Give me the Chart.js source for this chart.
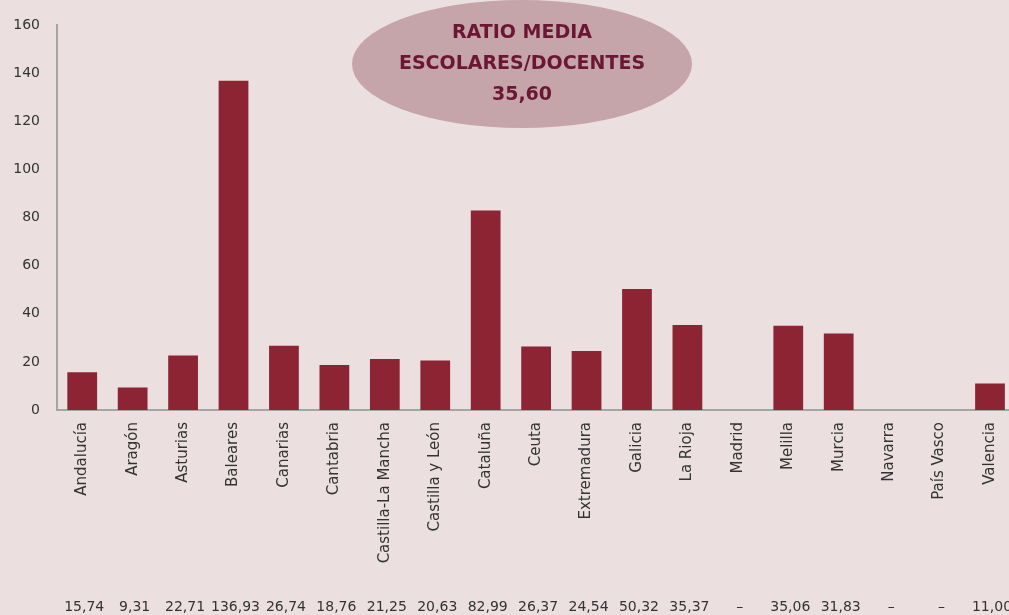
<!DOCTYPE html>
<html>
<head>
<meta charset="utf-8">
<script src="https://cdn.jsdelivr.net/npm/chart.js@4"></script>
<style>
  html, body { margin: 0; padding: 0; background: #ebdfe0; overflow: hidden; }
  #wrap { width: 1020px; height: 615px; position: relative; }
</style>
</head>
<body>
<div id="wrap"><canvas id="ratioChart"></canvas></div>
<script>
const regiones = ['Andalucía', 'Aragón', 'Asturias', 'Baleares', 'Canarias', 'Cantabria',
  'Castilla-La Mancha', 'Castilla y León', 'Cataluña', 'Ceuta', 'Extremadura', 'Galicia',
  'La Rioja', 'Madrid', 'Melilla', 'Murcia', 'Navarra', 'País Vasco', 'Valencia']

const ratios = [15.74, 9.31, 22.71, 136.93, 26.74, 18.76, 21.25, 20.63, 82.99, 26.37,
  24.54, 50.32, 35.37, null, 35.06, 31.83, null, null, 11.00]

const ratioMedia = 35.60
const tituloLineas = ['RATIO MEDIA', 'ESCOLARES/DOCENTES']

const FONT = '"DejaVu Sans", sans-serif'
const fmt = v => v == null ? '–' : v.toFixed(2).replace('.', ',')

// fondo, etiqueta ovalada y fila de valores bajo el eje
const decoracion = {
  id: 'decoracion',
  beforeDraw(chart) {
    const ctx = chart.ctx
    ctx.save()
    ctx.fillStyle = '#ebdfe0'
    ctx.fillRect(0, 0, chart.width, chart.height)
    ctx.restore()
  },
  afterDraw(chart) {
    const ctx = chart.ctx
    const x = chart.scales.x
    ctx.save()
    ctx.font = '14px ' + FONT
    ctx.fillStyle = '#333333'
    ctx.textAlign = 'center'
    ctx.textBaseline = 'middle'
    ratios.forEach((v, i) => {
      ctx.fillText(fmt(v), x.getPixelForValue(i) + 2, 607)
    })

    ctx.beginPath()
    ctx.ellipse(522, 64, 170, 64, 0, 0, Math.PI * 2)
    ctx.fillStyle = '#c5a4aa'
    ctx.fill()
    ctx.fillStyle = '#6b1734'
    ctx.font = 'bold 19px ' + FONT
    const lineas = tituloLineas.concat([fmt(ratioMedia)])
    lineas.forEach((t, i) => ctx.fillText(t, 522, 33 + i * 31))
    ctx.restore()
  }
}

new Chart(document.getElementById('ratioChart'), {
  type: 'bar',
  data: {
    labels: regiones,
    datasets: [{
      data: ratios,
      backgroundColor: '#8c2433',
      barPercentage: 0.59,
      categoryPercentage: 1
    }]
  },
  options: {
    responsive: true,
    maintainAspectRatio: false,
    animation: false,
    layout: { padding: { top: 22, right: 0, left: 0, bottom: 0 } },
    plugins: { legend: { display: false }, tooltip: { enabled: false } },
    scales: {
      x: {
        grid: { display: false, drawTicks: false },
        border: { color: '#a5a5a5', width: 2 },
        ticks: {
          color: '#333333',
          font: { family: FONT, size: 15 },
          maxRotation: 90,
          minRotation: 90,
          padding: 12
        },
        afterFit(scale) { scale.height = 205 }
      },
      y: {
        min: 0,
        max: 160,
        grid: { display: false, drawTicks: false },
        border: { color: '#a5a5a5', width: 2 },
        ticks: {
          stepSize: 20,
          color: '#333333',
          font: { family: FONT, size: 14 },
          padding: 17
        },
        afterFit(scale) { scale.width = 57 }
      }
    }
  },
  plugins: [decoracion]
})
</script>
</body>
</html>
